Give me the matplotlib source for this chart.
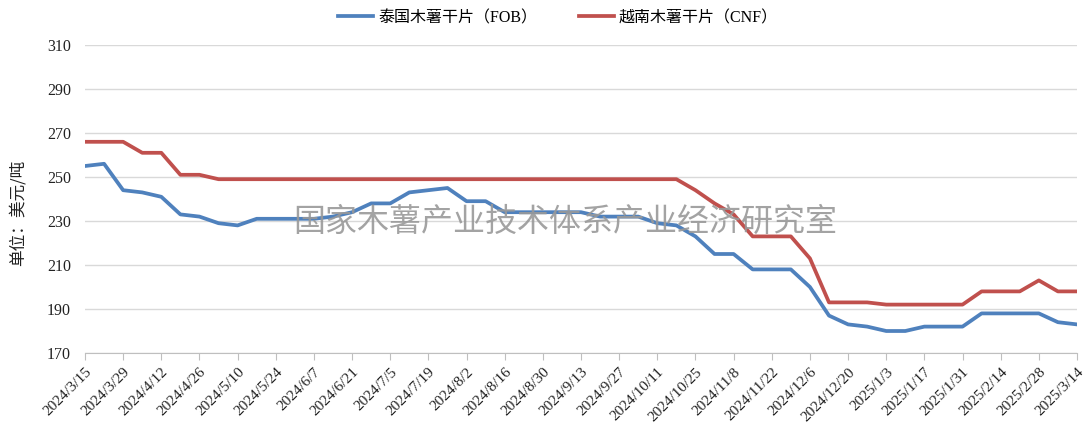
import matplotlib
matplotlib.use("Agg")
import matplotlib.pyplot as plt
import numpy as np

tick_labels = ["2024/3/15", "2024/3/29", "2024/4/12", "2024/4/26", "2024/5/10", "2024/5/24",
               "2024/6/7", "2024/6/21", "2024/7/5", "2024/7/19", "2024/8/2", "2024/8/16",
               "2024/8/30", "2024/9/13", "2024/9/27", "2024/10/11", "2024/10/25", "2024/11/8",
               "2024/11/22", "2024/12/6", "2024/12/20", "2025/1/3", "2025/1/17", "2025/1/31",
               "2025/2/14", "2025/2/28", "2025/3/14"]

thailand_fob = [255, 256, 244, 243, 241, 233, 232, 229, 228, 231, 231, 231, 231, 232, 234, 238,
                238, 243, 244, 245, 239, 239, 234, 234, 234, 234, 234, 232, 232, 232, 229, 228,
                223, 215, 215, 208, 208, 208, 200, 187, 183, 182, 180, 180, 182, 182, 182, 188,
                188, 188, 188, 184, 183]

vietnam_cnf = [266, 266, 266, 261, 261, 251, 251] + [249] * 25 + \
              [244, 238, 233, 223, 223, 223, 213, 193, 193, 193, 192, 192, 192, 192, 192,
               198, 198, 198, 203, 198, 198]

series_names = ["泰国木薯干片（FOB）", "越南木薯干片（CNF）"]
y_ticks = [170, 190, 210, 230, 250, 270, 290, 310]

plt.rcParams['font.family'] = ['Liberation Serif', 'Noto Sans CJK SC', 'DejaVu Sans']

fig = plt.figure(figsize=(10.85, 4.25), dpi=100)
ax = fig.add_axes([85/1085, 1-353/425, (1077-85)/1085, (353-45)/425])

x = np.arange(len(thailand_fob))
l1, = ax.plot(x, thailand_fob, color="#4F81BD", lw=2.7, solid_joinstyle='round', zorder=3)
l2, = ax.plot(x, vietnam_cnf, color="#C0504D", lw=2.7, solid_joinstyle='round', zorder=3)

ax.set_xlim(0, len(thailand_fob) - 1)
ax.set_ylim(170, 310)
ax.set_yticks(y_ticks)
ax.set_yticklabels([str(v) for v in y_ticks], fontsize=11.5, color="#222222")
ax.tick_params(axis='y', length=0, pad=10)

xt = np.arange(0, len(thailand_fob), 2)
ax.set_xticks(xt)
ax.set_xticklabels(tick_labels, rotation=45, ha='right', rotation_mode='anchor',
                   fontsize=11, color="#222222")
ax.tick_params(axis='x', length=5, color="#BFBFBF", pad=4)

ax.grid(axis='y', color="#D9D9D9", lw=1)
ax.set_axisbelow(True)
for s in ['top', 'right', 'left']:
    ax.spines[s].set_visible(False)
ax.spines['bottom'].set_color("#BFBFBF")

fig.text(18/1085, 1-213/425, "单位：美元/吨", rotation=90, ha='center', va='center',
         fontsize=12, color="#222222", family=['Noto Sans CJK SC', 'DejaVu Sans'])

fig.text(565/1085, 1-222/425, "国家木薯产业技术体系产业经济研究室", ha='center', va='center',
         fontsize=23, color="#999999", alpha=0.9, family=['Noto Sans CJK SC', 'DejaVu Sans'],
         zorder=5)

fig.legend([l1, l2], series_names, loc='center', bbox_to_anchor=(558/1085, 1-18/425),
           ncol=2, frameon=False, fontsize=11.5, handlelength=2.2, columnspacing=2.6,
           handletextpad=0.3)

fig.savefig("out.png", dpi=100, facecolor='white')
